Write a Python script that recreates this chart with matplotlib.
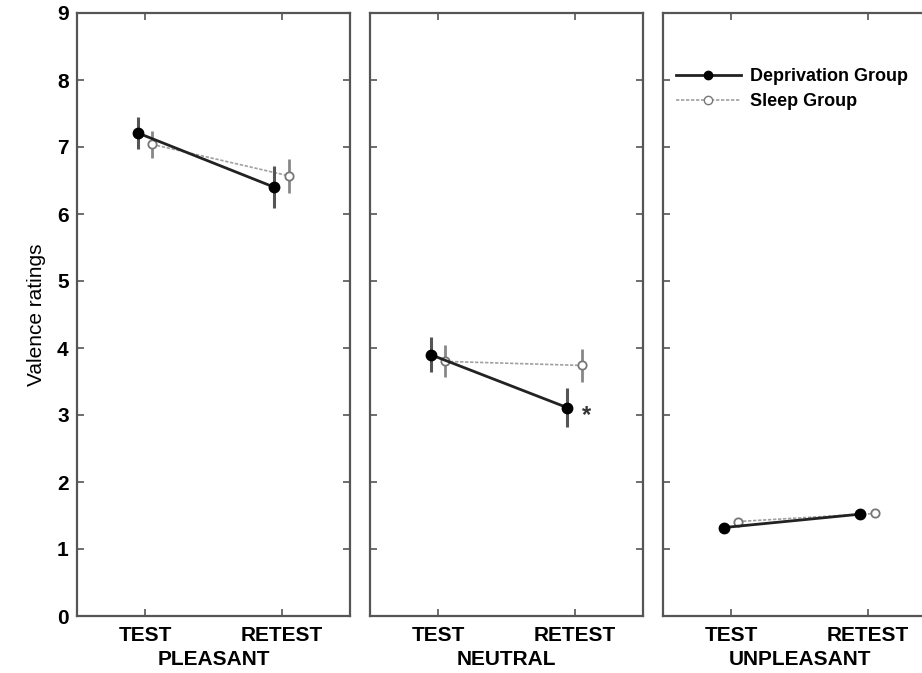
import matplotlib
matplotlib.use("Agg")
import matplotlib.pyplot as plt
from matplotlib.lines import Line2D

plt.rcParams['font.family'] = ['Liberation Sans', 'DejaVu Sans']

conditions = ["PLEASANT", "NEUTRAL", "UNPLEASANT"]
sessions = ["TEST", "RETEST"]
dep_mean = [[7.21, 6.40], [3.90, 3.11], [1.32, 1.52]]
dep_err = [[0.24, 0.31], [0.26, 0.29], [0.06, 0.07]]
sleep_mean = [[7.04, 6.57], [3.80, 3.74], [1.41, 1.53]]
sleep_err = [[0.20, 0.25], [0.24, 0.24], [0.05, 0.05]]
yticks = [0, 1, 2, 3, 4, 5, 6, 7, 8, 9]

fig = plt.figure(figsize=(9.22, 6.73), dpi=100)
lefts = [77 / 922, 370 / 922, 663 / 922]
w = 273 / 922
b = 1 - 616 / 673
h = (616 - 13) / 673

xpos = [1, 2]
off_d, off_s = -0.055, 0.05
spine_col = "#555555"
dep_col = "#222222"
sleep_col = "#a0a0a0"

for i, cond in enumerate(conditions):
    ax = fig.add_axes([lefts[i], b, w, h])
    xd = [x + off_d for x in xpos]
    xs = [x + off_s for x in xpos]
    ax.errorbar(xs, sleep_mean[i], yerr=sleep_err[i], color=sleep_col,
                lw=1.2, ls=(0, (2, 1)), marker='o', ms=6, mfc='white',
                mec='#777777', mew=1.3, ecolor='#888888', elinewidth=2,
                capsize=0, zorder=2)
    ax.errorbar(xd, dep_mean[i], yerr=dep_err[i], color=dep_col,
                lw=2.0, marker='o', ms=7.5, mfc='black', mec='black',
                ecolor='#555555', elinewidth=2.2, capsize=0, zorder=3)
    ax.set_xlim(0.5, 2.5)
    ax.set_ylim(0, 9)
    ax.set_xticks(xpos)
    ax.set_xticklabels(sessions, fontsize=15, fontweight='bold')
    ax.set_yticks(yticks)
    ax.set_xlabel(cond, fontsize=15, fontweight='bold', labelpad=4)
    ax.tick_params(direction='in', top=True, right=True, length=5,
                   width=1.2, color=spine_col)
    ax.tick_params(axis='x', pad=7)
    ax.tick_params(axis='y', pad=6)
    for sp in ax.spines.values():
        sp.set_color(spine_col)
        sp.set_linewidth(1.6)
    if i == 0:
        ax.set_yticklabels([str(t) for t in yticks], fontsize=15, fontweight='bold')
        ax.set_ylabel("Valence ratings", fontsize=15, labelpad=8)
    else:
        ax.set_yticklabels([])
    if i == 1:
        ax.text(xpos[1] + 0.05, dep_mean[1][1] - 0.12, "*", fontsize=17,
                fontweight='bold', color='#333333', ha='left', va='center')
    if i == 2:
        handles = [
            Line2D([], [], color=dep_col, lw=2.0, marker='o', ms=6,
                   mfc='black', mec='black'),
            Line2D([], [], color=sleep_col, lw=1.2, ls=(0, (2, 1)), marker='o',
                   ms=6, mfc='white', mec='#777777'),
        ]
        ax.legend(handles, ["Deprivation Group", "Sleep Group"], loc='upper left',
                  bbox_to_anchor=(0.0, 0.93), frameon=False, handlelength=3.6,
                  prop={'weight': 'bold', 'size': 13}, labelspacing=0.45,
                  handletextpad=0.5, borderaxespad=0.3)

fig.savefig("out.png", dpi=100)
